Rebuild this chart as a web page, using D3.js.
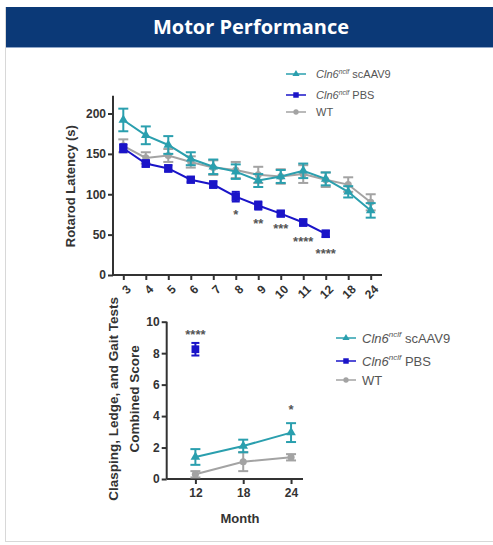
<!DOCTYPE html>
<html>
<head>
<meta charset="utf-8">
<script src="https://cdn.jsdelivr.net/npm/d3@7/dist/d3.min.js"></script>
<style>
  html, body { margin: 0; padding: 0; background: #fff; }
  svg { display: block; }
  text { font-family: Arial, "Liberation Sans", sans-serif; }
</style>
</head>
<body>
<svg id="chart" width="493" height="545"></svg>
<script>
// ---- Rotarod latency by month ----
const rotarodMonths = ["3", "4", "5", "6", "7", "8", "9", "10", "11", "12", "18", "24"];
const rotarodAAV9    = [192, 173, 161, 144, 134, 128, 117, 122, 129, 119, 103, 80];
const rotarodAAV9Err = [14, 11, 11, 8, 9, 9, 8, 8, 9, 8, 7, 9];
const rotarodPBS     = [157, 138, 132, 118, 112, 97, 86, 76, 65, 51];
const rotarodPBSErr  = [5, 4, 4, 3, 4, 6, 5, 3, 4, 4];
const rotarodWT      = [160, 145, 148, 140, 133, 130, 124, 122, 125, 118, 112, 90];
const rotarodWTErr   = [8, 7, 8, 7, 9, 10, 10, 9, 11, 9, 9, 10];
const rotarodTicks   = [0, 50, 100, 150, 200];
// significance marks: month, level in seconds, label
const rotarodStars = [
  ["8", 77, "*"], ["9", 66, "**"], ["10", 60, "***"], ["11", 43, "****"], ["12", 29, "****"]
];

// ---- Combined neurological score ----
const scoreMonths  = [12, 18, 24];
const scoreAAV9    = [1.4, 2.1, 2.95];
const scoreAAV9Err = [0.5, 0.4, 0.6];
const scorePBS     = [8.25];
const scorePBSErr  = [0.4];
const scoreWT      = [0.3, 1.1, 1.38];
const scoreWTErr   = [0.2, 0.6, 0.2];
const scoreTicks   = [0, 2, 4, 6, 8, 10];
const scoreStars   = [[12, 9.3, "****"], [24, 4.5, "*"]];

const legendLabels = [["Cln6", "nclf", " scAAV9"], ["Cln6", "nclf", " PBS"], ["WT", "", ""]];

const colAAV9 = "#2a9fae", colPBS = "#1a14c8", colWT = "#a3a3a3";
const axisCol = "#333";

const svg = d3.select("#chart");

// panel frame and header band
svg.append("rect").attr("x", 5.5).attr("y", 7.5).attr("width", 500).attr("height", 534)
  .attr("fill", "#fff").attr("stroke", "#d8d8d8");
svg.append("rect").attr("x", 6).attr("y", 7).attr("width", 487).attr("height", 40)
  .attr("fill", "#0b3977");
svg.append("line").attr("x1", 6).attr("x2", 493).attr("y1", 47.5).attr("y2", 47.5)
  .attr("stroke", "#8fa6c8").attr("stroke-width", 1);
svg.append("text").attr("x", 251).attr("y", 34).attr("text-anchor", "middle")
  .attr("fill", "#fff").attr("font-size", 20).attr("font-weight", "bold")
  .style("font-family", "'Open Sans', Lato, sans-serif")
  .text("Motor Performance");

function symbolFor(kind, size) {
  const t = kind === "aav9" ? d3.symbolTriangle : kind === "pbs" ? d3.symbolSquare : d3.symbolCircle;
  return d3.symbol().type(t).size(size)();
}

function drawSeries(g, xs, vals, errs, x, y, color, kind, opts) {
  const pts = vals.map((v, i) => ({ x: x(xs[i]), v, e: errs[i] }));
  g.append("path").datum(pts)
    .attr("fill", "none").attr("stroke", color).attr("stroke-width", opts.lw)
    .attr("d", d3.line().x(d => d.x).y(d => y(d.v)));
  const eb = g.append("g").attr("stroke", color).attr("stroke-width", opts.ew);
  pts.forEach(d => {
    eb.append("line").attr("x1", d.x).attr("x2", d.x).attr("y1", y(d.v - d.e)).attr("y2", y(d.v + d.e));
    [d.v - d.e, d.v + d.e].forEach(t => eb.append("line")
      .attr("x1", d.x - opts.cap).attr("x2", d.x + opts.cap).attr("y1", y(t)).attr("y2", y(t)));
  });
  g.selectAll(null).data(pts).join("path")
    .attr("transform", d => `translate(${d.x},${y(d.v)})`)
    .attr("d", symbolFor(kind, opts.ms)).attr("fill", color);
}

function drawLegend(g, x0, rows, fs, dy) {
  const colors = [colAAV9, colPBS, colWT], kinds = ["aav9", "pbs", "wt"];
  legendLabels.forEach((lab, i) => {
    const yy = rows[i];
    g.append("line").attr("x1", x0 - 10).attr("x2", x0 + 10).attr("y1", yy).attr("y2", yy)
      .attr("stroke", colors[i]).attr("stroke-width", 1.5);
    g.append("path").attr("transform", `translate(${x0},${yy})`)
      .attr("d", symbolFor(kinds[i], kinds[i] === "pbs" ? 30 : 22)).attr("fill", colors[i]);
    const t = g.append("text").attr("x", x0 + dy).attr("y", yy + fs * 0.36)
      .attr("font-size", fs).attr("fill", "#555");
    if (lab[1]) {
      t.append("tspan").attr("font-style", "italic").text(lab[0]);
      t.append("tspan").attr("font-style", "italic").attr("font-size", fs * 0.62)
        .attr("dy", -fs * 0.4).text(lab[1]);
      t.append("tspan").attr("dy", fs * 0.4).text(lab[2]);
    } else {
      t.text(lab[0]);
    }
  });
}

// ---------- top chart ----------
{
  const g = svg.append("g");
  const x = d3.scalePoint().domain(rotarodMonths).range([123.3, 370.7]);
  const y = d3.scaleLinear().domain([0, 200]).range([275, 113.5]);

  // axes
  const yAxis = d3.axisLeft(y).tickValues(rotarodTicks).tickSize(5).tickPadding(2);
  const ya = g.append("g").attr("transform", "translate(113,0)").call(yAxis);
  ya.select(".domain").attr("d", `M0,${y(222)}V${y(0)}`);
  const xAxis = d3.axisBottom(x).tickSize(5).tickPadding(3);
  const xa = g.append("g").attr("transform", `translate(0,${y(0)})`).call(xAxis);
  xa.select(".domain").attr("d", "M113,0H382");
  [ya, xa].forEach(a => {
    a.selectAll(".domain, .tick line").attr("stroke", axisCol).attr("stroke-width", 2);
    a.selectAll("text").attr("fill", "#333").attr("font-size", 12).attr("font-weight", "bold")
      .style("font-family", "Arial, 'Liberation Sans', sans-serif");
  });
  // slanted month labels
  xa.selectAll(".tick text")
    .attr("x", 0).attr("y", 0).attr("dy", "0.35em")
    .attr("text-anchor", "end")
    .attr("transform", "translate(5,12) rotate(-45)");

  g.append("text").attr("transform", `translate(75,${y(110)}) rotate(-90)`)
    .attr("text-anchor", "middle").attr("font-size", 13).attr("font-weight", "bold")
    .attr("fill", "#333").text("Rotarod Latency (s)");

  const opts = { lw: 2, ew: 2, cap: 5, ms: 40 };
  drawSeries(g, rotarodMonths, rotarodWT, rotarodWTErr, x, y, colWT, "wt", opts);
  drawSeries(g, rotarodMonths, rotarodAAV9, rotarodAAV9Err, x, y, colAAV9, "aav9", opts);
  drawSeries(g, rotarodMonths, rotarodPBS, rotarodPBSErr, x, y, colPBS, "pbs", { lw: 2, ew: 2, cap: 4, ms: 70 });

  rotarodStars.forEach(([m, v, s]) => {
    g.append("text").attr("x", x(m)).attr("y", y(v) + 6).attr("text-anchor", "middle")
      .attr("font-size", 13).attr("fill", "#555").attr("font-weight", "bold").text(s);
  });

  drawLegend(g, 296, [74, 95, 112], 11, 20);
}

// ---------- bottom chart ----------
{
  const g = svg.append("g");
  const x = d3.scaleLinear().domain([8.4, 25.5]).range([166.7, 303]);
  const y = d3.scaleLinear().domain([0, 10]).range([479, 321.7]);

  const ya = g.append("g").attr("transform", "translate(166.7,0)")
    .call(d3.axisLeft(y).tickValues(scoreTicks).tickSize(5).tickPadding(2));
  const xa = g.append("g").attr("transform", `translate(0,${y(0)})`)
    .call(d3.axisBottom(x).tickValues(scoreMonths).tickSize(5).tickPadding(4));
  ya.select(".domain").attr("d", `M0,${y(10)}V${y(0)}`);
  xa.select(".domain").attr("d", "M166.7,0H303");
  [ya, xa].forEach(a => {
    a.selectAll(".domain, .tick line").attr("stroke", axisCol).attr("stroke-width", 2);
    a.selectAll("text").attr("fill", "#333").attr("font-size", 12).attr("font-weight", "bold")
      .style("font-family", "Arial, 'Liberation Sans', sans-serif");
  });

  g.append("text").attr("x", 240).attr("y", 523).attr("text-anchor", "middle")
    .attr("font-size", 13).attr("font-weight", "bold").attr("fill", "#333").text("Month");
  const yl = g.append("text").attr("transform", `translate(118,${y(5.1)}) rotate(-90)`)
    .attr("text-anchor", "middle").attr("font-size", 13.5).attr("font-weight", "bold").attr("fill", "#333");
  yl.append("tspan").attr("x", 0).attr("dy", 0).text("Clasping, Ledge, and Gait Tests");
  yl.append("tspan").attr("x", 0).attr("dy", 21).text("Combined Score");

  const opts = { lw: 2, ew: 2, cap: 5, ms: 40 };
  drawSeries(g, scoreMonths, scoreWT, scoreWTErr, x, y, colWT, "wt", opts);
  drawSeries(g, scoreMonths, scoreAAV9, scoreAAV9Err, x, y, colAAV9, "aav9", opts);
  drawSeries(g, scoreMonths, scorePBS, scorePBSErr, x, y, colPBS, "pbs", { lw: 2, ew: 2, cap: 4, ms: 60 });

  scoreStars.forEach(([m, v, s]) => {
    g.append("text").attr("x", x(m)).attr("y", y(v) + 6).attr("text-anchor", "middle")
      .attr("font-size", 13).attr("fill", "#555").attr("font-weight", "bold").text(s);
  });

  drawLegend(g, 346, [338, 361, 380], 13, 16);
}
</script>
</body>
</html>
